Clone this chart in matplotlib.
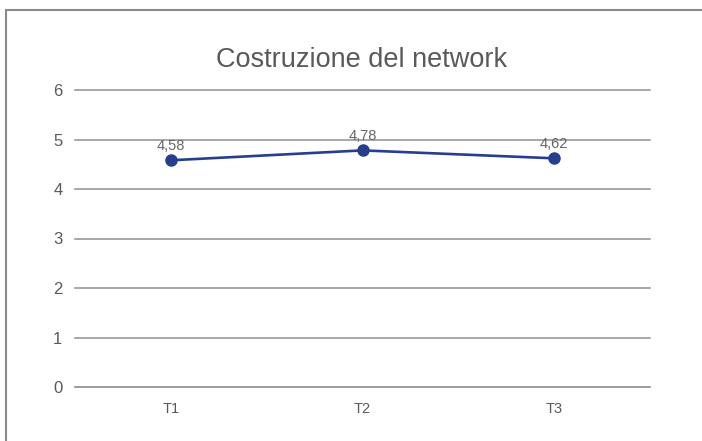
import matplotlib
matplotlib.use("Agg")
import matplotlib.pyplot as plt
from matplotlib.patches import Rectangle

### DATI
### ------------------

categorie = ["T1", "T2", "T3"]
valori = [4.58, 4.78, 4.62]
etichette = ["4,58", "4,78", "4,62"]
tick_y = [0, 1, 2, 3, 4, 5, 6]

titolo = "Costruzione del network"

### GRAFICO
### ------------------

plt.rcParams['font.family'] = ['Liberation Sans', 'DejaVu Sans']

fig = plt.figure(figsize=(7.02, 4.41), dpi=100)
ax = fig.add_axes([75/702, 1-387/441, 575/702, 297/441])

x = range(len(categorie))
ax.plot(x, valori, color='#253f8e', linewidth=1.9, marker='o', markersize=8, zorder=3, clip_on=False)

for xi, v, lab in zip(x, valori, etichette):
    ax.annotate(lab, (xi, v), xytext=(0, 5.5), textcoords='offset points',
                ha='center', va='bottom', fontsize=10.5, color='#666666')

ax.set_xlim(-0.5, len(categorie) - 0.5)
ax.set_ylim(0, 6)
ax.set_yticks(tick_y)
ax.set_xticks(list(x))
ax.set_xticklabels(categorie)
ax.tick_params(axis='y', length=0, pad=9, labelsize=12, labelcolor='#595959')
ax.tick_params(axis='x', length=0, pad=11, labelsize=10.5, labelcolor='#595959')

for s in ax.spines.values():
    s.set_visible(False)

for t in tick_y:
    ax.axhline(t, color='#808080' if t == 0 else '#8f8f8f', linewidth=1.1, zorder=1, clip_on=False)

fig.text(362/702, 1-67/441, titolo, ha='center', va='baseline', fontsize=19.5, color='#595959')

# cornice esterna
fig.patches.append(Rectangle((6/702, -0.1), 1.2, 1.1 - 10.5/441, transform=fig.transFigure,
                             fill=False, edgecolor='#8a8a8a', linewidth=1.5, figure=fig))

fig.savefig("out.png", dpi=100)
